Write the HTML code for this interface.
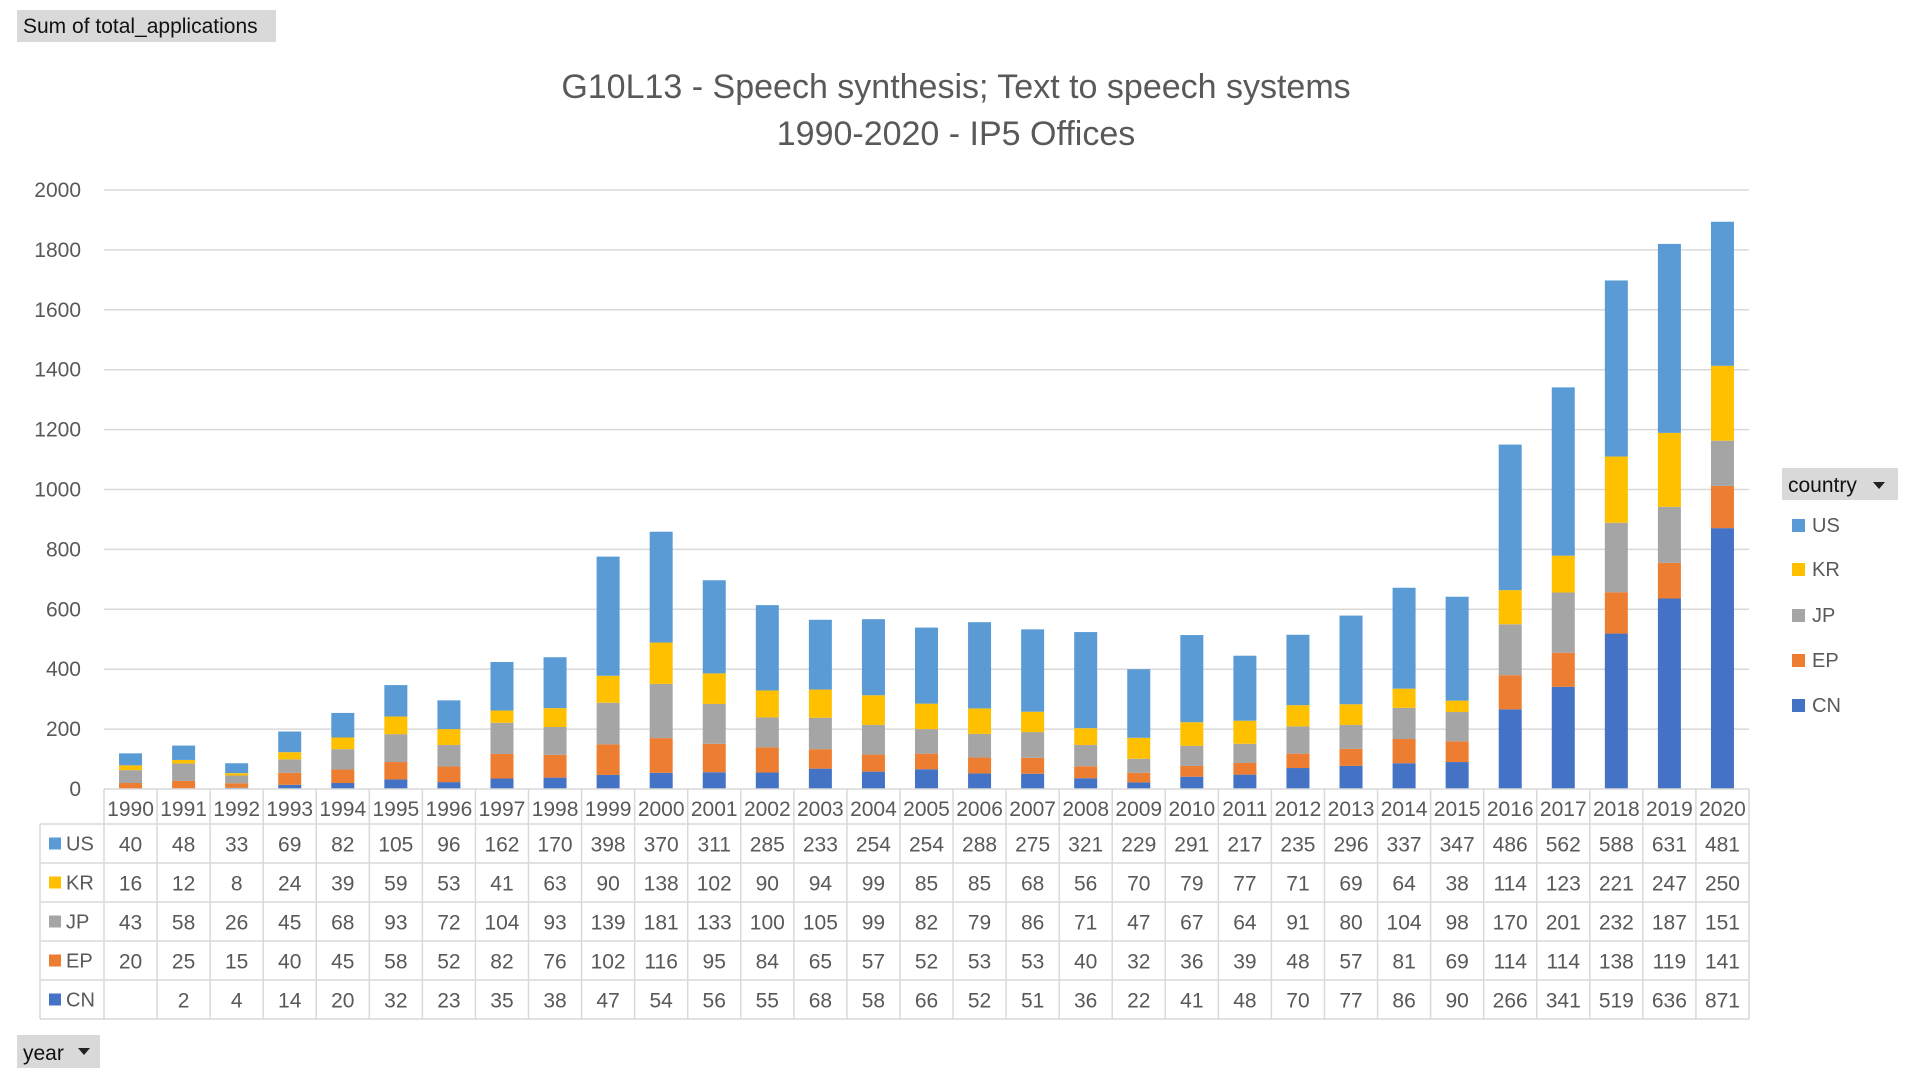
<!DOCTYPE html>
<html><head><meta charset="utf-8"><style>
html,body{margin:0;padding:0;background:#fff;width:1920px;height:1080px;overflow:hidden}
svg{display:block}
text{font-family:"Liberation Sans",Arial,sans-serif}
</style></head><body>
<svg id="s" width="1920" height="1080" xmlns="http://www.w3.org/2000/svg"></svg>
<script>
const years=[];for(let y=1990;y<=2020;y++)years.push(y);
const D={
US:[40,48,33,69,82,105,96,162,170,398,370,311,285,233,254,254,288,275,321,229,291,217,235,296,337,347,486,562,588,631,481],
KR:[16,12,8,24,39,59,53,41,63,90,138,102,90,94,99,85,85,68,56,70,79,77,71,69,64,38,114,123,221,247,250],
JP:[43,58,26,45,68,93,72,104,93,139,181,133,100,105,99,82,79,86,71,47,67,64,91,80,104,98,170,201,232,187,151],
EP:[20,25,15,40,45,58,52,82,76,102,116,95,84,65,57,52,53,53,40,32,36,39,48,57,81,69,114,114,138,119,141],
CN:[null,2,4,14,20,32,23,35,38,47,54,56,55,68,58,66,52,51,36,22,41,48,70,77,86,90,266,341,519,636,871]};
const C={US:"#5B9BD5",KR:"#FFC000",JP:"#A5A5A5",EP:"#ED7D31",CN:"#4472C4"};
let h='';
const x0=104,x1=1749,y0=789,yTop=190,cw=(x1-x0)/31,k=(y0-yTop)/2000;
h+=`<rect x="17" y="10" width="259" height="32" fill="#d9d9d9"/><text x="23" y="33" font-size="21" fill="#111">Sum of total_applications</text>`;
h+=`<text x="956" y="98" font-size="34" fill="#595959" text-anchor="middle">G10L13 - Speech synthesis; Text to speech systems</text>`;
h+=`<text x="956" y="145" font-size="34" fill="#595959" text-anchor="middle">1990-2020 - IP5 Offices</text>`;
for(let v=0;v<=2000;v+=200){const y=y0-v*k;
 if(v>0)h+=`<line x1="${x0}" x2="${x1}" y1="${y}" y2="${y}" stroke="#d9d9d9" stroke-width="1.5"/>`;
 h+=`<text x="81" y="${y+7}" font-size="21" fill="#595959" text-anchor="end">${v}</text>`;}
const order=["CN","EP","JP","KR","US"];
for(let i=0;i<31;i++){let cum=0;const cx=x0+cw*(i+0.5),bw=23;
 for(const s of order){const v=D[s][i]||0;if(!v)continue;const yt=y0-(cum+v)*k;
  h+=`<rect x="${cx-bw/2}" y="${yt}" width="${bw}" height="${v*k}" fill="${C[s]}"/>`;cum+=v;}}
const rh=(1019-824)/5;
const rows=["US","KR","JP","EP","CN"];
const g="#d9d9d9";
h+=`<line x1="${x0}" x2="${x1}" y1="${y0}" y2="${y0}" stroke="${g}" stroke-width="1.5"/>`;
for(let i=0;i<=31;i++){const x=x0+cw*i;h+=`<line x1="${x}" x2="${x}" y1="${y0}" y2="1019" stroke="${g}" stroke-width="1.5"/>`;}
h+=`<line x1="40" x2="40" y1="824" y2="1019" stroke="${g}" stroke-width="1.5"/>`;
h+=`<line x1="40" x2="${x1}" y1="824" y2="824" stroke="${g}" stroke-width="1.5"/>`;
for(let r=1;r<=5;r++){const y=824+rh*r;h+=`<line x1="40" x2="${x1}" y1="${y}" y2="${y}" stroke="${g}" stroke-width="1.5"/>`;}
for(let i=0;i<31;i++){const cx=x0+cw*(i+0.5);
 h+=`<text x="${cx}" y="816" font-size="21" fill="#595959" text-anchor="middle">${years[i]}</text>`;
 rows.forEach((s,r)=>{const v=D[s][i];if(v!=null)h+=`<text x="${cx}" y="${824+rh*r+rh/2+8}" font-size="21" fill="#595959" text-anchor="middle">${v}</text>`;});}
rows.forEach((s,r)=>{const yc=824+rh*r+rh/2;
 h+=`<rect x="49" y="${yc-6}" width="12" height="12" fill="${C[s]}"/><text x="66" y="${yc+7}" font-size="20" fill="#595959">${s}</text>`;});
h+=`<rect x="1782" y="468" width="116" height="32" fill="#d9d9d9"/><text x="1788" y="492" font-size="21" fill="#111">country</text><polygon points="1873,482 1885,482 1879,489" fill="#222"/>`;
const ly=[525,569,615,660,705];
rows.forEach((s,r)=>{h+=`<rect x="1792" y="${ly[r]-6}" width="13" height="13" fill="${C[s]}"/><text x="1812" y="${ly[r]+7}" font-size="20" fill="#595959">${s}</text>`;});
h+=`<rect x="17" y="1035" width="83" height="33" fill="#d9d9d9"/><text x="23" y="1060" font-size="21" fill="#111">year</text><polygon points="78,1048 90,1048 84,1055" fill="#222"/>`;
document.getElementById('s').innerHTML=h;
</script>
</body></html>
